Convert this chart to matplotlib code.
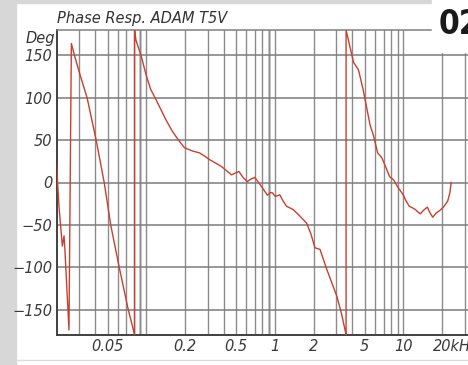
import matplotlib
matplotlib.use('Agg')
import matplotlib.pyplot as plt
from matplotlib.ticker import FixedLocator, NullFormatter
from matplotlib.transforms import ScaledTranslation
from matplotlib.patches import Rectangle
from matplotlib.lines import Line2D

# ---- data (frequency in Hz, phase in degrees) ----
freq_hz = [20, 20.9, 22.2, 22.9, 23.3, 25.0,
           26.1, 27.6, 30.5, 34.6, 40.7, 47.0, 52.8, 61.5, 72.3, 80.5, 81, 81,
           83, 90.9, 100, 108, 117, 142, 160, 178, 198, 230, 259, 285, 310, 345,
           383, 420, 460, 490, 525, 565, 610, 650, 698, 780, 875, 920, 955, 1000,
           1030, 1092, 1160, 1232, 1390, 1550, 1766, 1900, 2050, 2245, 2540, 3030,
           3300, 3560, 3580, 3580,
           4090, 4470, 4870, 5500, 5860, 6300, 6800, 7300, 7800, 8400, 9000, 9900,
           10500, 11100, 11800, 12400, 13000, 13550, 14300, 15340, 16000, 16900,
           18000, 19200, 20500, 22100, 23000, 23500]
phase_deg = [23, -28, -75, -63, -82, -174,
             164, 150, 127, 100, 50, 0, -50, -100, -150, -178, -180, 180,
             168, 150, 126, 110, 100, 74, 60, 50, 41, 37, 35, 31, 27, 23,
             19, 14, 9, 11, 13, 6, 1, 4, 6, -4, -15, -12, -12, -16,
             -16, -14.5, -22, -28, -32, -39, -48, -60, -77, -79, -103, -134,
             -155, -178, -180, 180,
             142, 133, 109, 68, 55, 35, 29, 18, 7, 3, -5, -14,
             -22, -28, -30, -32, -35, -37, -33, -29, -35, -41,
             -36, -33, -29, -22, -12, 0]

xtick_vals = [50, 200, 500, 1000, 2000, 5000, 10000, 20000]
xtick_labels = ["0.05", "0.2", "0.5", "1", "2", "5", "10", "20kHz"]
ytick_vals = [-150, -100, -50, 0, 50, 100, 150]
ytick_labels = ["\u2212150", "\u2212100", "\u221250", "0", "50", "100", "150"]
title_text = "Phase Resp. ADAM T5V"

W, H = 468, 365
fig = plt.figure(figsize=(W / 100, H / 100), dpi=100)
fig.patch.set_facecolor('white')

ax = fig.add_axes([56.5 / W, 30 / H, (W - 56.5) / W, 305 / H])
ax.set_xscale('log')
ax.set_xlim(20, 31800)
ax.set_ylim(-180, 180)

# grid lines at every log step
grid_freqs = [d * m for d in (10, 100, 1000, 10000) for m in range(1, 10)]
grid_freqs = [g for g in grid_freqs if 20 < g < 31800 and g not in xtick_vals]
ax.xaxis.set_major_locator(FixedLocator(xtick_vals))
ax.xaxis.set_minor_locator(FixedLocator(grid_freqs))
ax.xaxis.set_minor_formatter(NullFormatter())
ax.set_xticklabels(xtick_labels)
ax.set_yticks(ytick_vals)
ax.set_yticklabels(ytick_labels)

ax.grid(True, which='both', axis='x', color='#8c8c8c', lw=1.0, zorder=1)
ax.grid(True, which='major', axis='y', color='#7c7c7c', lw=1.1, zorder=1)
for g in (90, 900):
    ax.axvline(g, color='#262626', lw=1.0, zorder=1.5)

ax.tick_params(which='both', length=0)
ax.tick_params(axis='x', pad=3, labelsize=10.5, labelcolor='#3a3a3a')
ax.tick_params(axis='y', pad=3, labelsize=10.5, labelcolor='#3a3a3a')
for lab in ax.get_xticklabels() + ax.get_yticklabels():
    lab.set_fontstyle('italic')

last = ax.get_xticklabels()[-1]
last.set_horizontalalignment('left')
last.set_transform(last.get_transform() + ScaledTranslation(-6.8 / 72, 0, fig.dpi_scale_trans))

for s in ('left', 'bottom'):
    ax.spines[s].set_color('#404040')
    ax.spines[s].set_linewidth(1.4)
ax.spines['top'].set_color('#808080')
ax.spines['top'].set_linewidth(1.1)
ax.spines['right'].set_visible(False)

ax.plot(freq_hz, phase_deg, color='#c8402f', lw=1.0, zorder=3)

fig.text(57 / W, 1 - 19 / H, title_text, ha='left', va='center',
         fontsize=10.5, style='italic', color='#333333')
fig.text(55 / W, 1 - 38 / H, "Deg", ha='right', va='center',
         fontsize=10.5, style='italic', color='#333333')

# page decorations
fig.add_artist(Rectangle((0, 0), 15.5 / W, 1, transform=fig.transFigure,
                         color='#d7d7d7', zorder=-5))
fig.add_artist(Rectangle((0, 1 - 3 / H), 432 / W, 3 / H, transform=fig.transFigure,
                         color='#d7d7d7', zorder=-5))
fig.add_artist(Line2D([16 / W, 1], [1 - 360 / H] * 2, transform=fig.transFigure,
                      color='#dddddd', lw=1.0))
fig.add_artist(Rectangle((432 / W, 1 - 52 / H), 36 / W, 52 / H, transform=fig.transFigure,
                         color='white', zorder=10))
fig.text(439 / W, 1 - 25 / H, "02", ha='left', va='center', fontsize=24,
         fontweight='bold', fontstretch='condensed', color='#1a1a1a', zorder=11)

fig.savefig('out.png', dpi=100)
